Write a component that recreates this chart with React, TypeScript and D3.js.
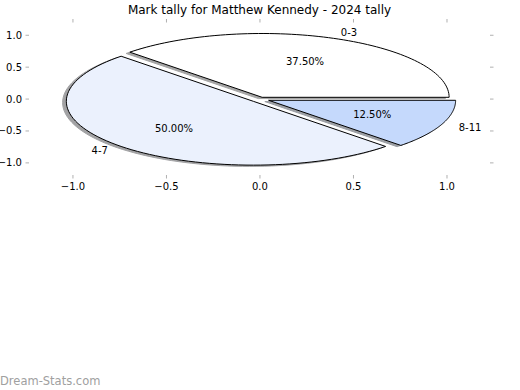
import React from "react";
import * as d3 from "d3";

const title = "Mark tally for Matthew Kennedy - 2024 tally";
const categories = ["0-3", "4-7", "8-11"];
const values = [37.5, 50.0, 12.5];
const explode = [0.03, 0.05, 0.05];
const colors = ["#ffffff", "#ebf1fd", "#c5d9fc"];
const xTicks = [-1.0, -0.5, 0.0, 0.5, 1.0];
const yTicks = [-1.0, -0.5, 0.0, 0.5, 1.0];

const W = 520;
const H = 390;
const box = { left: 29, right: 490, top: 22.5, bottom: 175 };

const App = () => {
  const x = d3.scaleLinear().domain([-1.235, 1.23]).range([box.left, box.right]);
  const y = d3.scaleLinear().domain([-1.19, 1.2]).range([box.bottom, box.top]);
  const fmt = d3.format(".1f");

  // matplotlib style: start at east, counterclockwise
  const pie = d3
    .pie<number>()
    .sort(null)
    .startAngle(Math.PI / 2)
    .endAngle(Math.PI / 2 - 2 * Math.PI);
  const slices = pie(values);

  const line = d3
    .line<[number, number]>()
    .x((d) => x(d[0]))
    .y((d) => y(d[1]));

  const wedges = slices.map((s, i) => {
    const t0 = Math.PI / 2 - s.startAngle;
    const t1 = Math.PI / 2 - s.endAngle;
    const tm = (t0 + t1) / 2;
    const cx = explode[i] * Math.cos(tm);
    const cy = explode[i] * Math.sin(tm);
    const n = 80;
    const pts: [number, number][] = [[cx, cy]];
    d3.range(n + 1).forEach((k) => {
      const t = t0 + ((t1 - t0) * k) / n;
      pts.push([cx + Math.cos(t), cy + Math.sin(t)]);
    });
    const shadowPts = pts.map((p) => [p[0] - 0.02, p[1] - 0.02] as [number, number]);
    const lx = cx + 1.1 * Math.cos(tm);
    const ly = cy + 1.1 * Math.sin(tm);
    const px = cx + 0.6 * Math.cos(tm);
    const py = cy + 0.6 * Math.sin(tm);
    const rgb = d3.rgb(colors[i]);
    const shade = d3.rgb(rgb.r * 0.3, rgb.g * 0.3, rgb.b * 0.3).formatHex();
    return {
      d: line(pts + "" ? pts : pts) + "Z",
      shadow: line(shadowPts) + "Z",
      shade,
      lx,
      ly,
      px,
      py,
      pct: d3.format(".2f")((s.value / d3.sum(values)) * 100) + "%",
      label: categories[i],
      color: colors[i],
    };
  });

  const font = "DejaVu Sans, sans-serif";

  return (
    <svg
      width={W}
      height={H}
      style={{ position: "absolute", left: 0, top: 0, background: "#fff" }}
      fontFamily={font}
    >
      <rect width={W} height={H} fill="#fff" />
      <text x={(box.left + box.right) / 2} y={14} textAnchor="middle" fontSize={12} fill="#000">
        {title}
      </text>

      {/* ticks */}
      <g stroke="#b0b0b0" strokeWidth={1}>
        {xTicks.map((t) => (
          <g key={"x" + t}>
            <line x1={x(t)} x2={x(t)} y1={box.bottom} y2={box.bottom + 3.5} />
            <line x1={x(t)} x2={x(t)} y1={box.top} y2={box.top - 3.5} />
          </g>
        ))}
        {yTicks.map((t) => (
          <g key={"y" + t}>
            <line x1={box.left} x2={box.left - 3.5} y1={y(t)} y2={y(t)} />
            <line x1={box.right} x2={box.right + 3.5} y1={y(t)} y2={y(t)} />
          </g>
        ))}
      </g>
      <g fontSize={10} fill="#000">
        {xTicks.map((t) => (
          <text key={"xl" + t} x={x(t)} y={190} textAnchor="middle">
            {fmt(t)}
          </text>
        ))}
        {yTicks.map((t) => (
          <text key={"yl" + t} x={box.left - 7} y={y(t)} dy="0.35em" textAnchor="end">
            {fmt(t)}
          </text>
        ))}
      </g>

      {/* shadows under everything */}
      {wedges.map((w, i) => (
        <path
          key={"s" + i}
          d={w.shadow}
          fill={w.shade}
          stroke={w.shade}
          strokeWidth={1}
          opacity={0.5}
        />
      ))}
      {wedges.map((w, i) => (
        <path
          key={"w" + i}
          d={w.d}
          fill={w.color}
          stroke="#000"
          strokeWidth={1}
          strokeLinejoin="miter"
        />
      ))}
      <g fontSize={10} fill="#000">
        {wedges.map((w, i) => (
          <text
            key={"l" + i}
            x={x(w.lx)}
            y={y(w.ly)}
            dy="0.35em"
            textAnchor={w.lx > 0 ? "start" : "end"}
          >
            {w.label}
          </text>
        ))}
        {wedges.map((w, i) => (
          <text key={"p" + i} x={x(w.px)} y={y(w.py)} dy="0.35em" textAnchor="middle">
            {w.pct}
          </text>
        ))}
      </g>

      <text x={0} y={385} fontSize={11.5} fill="#a0a0a0">
        Dream-Stats.com
      </text>
    </svg>
  );
};

export default App;
